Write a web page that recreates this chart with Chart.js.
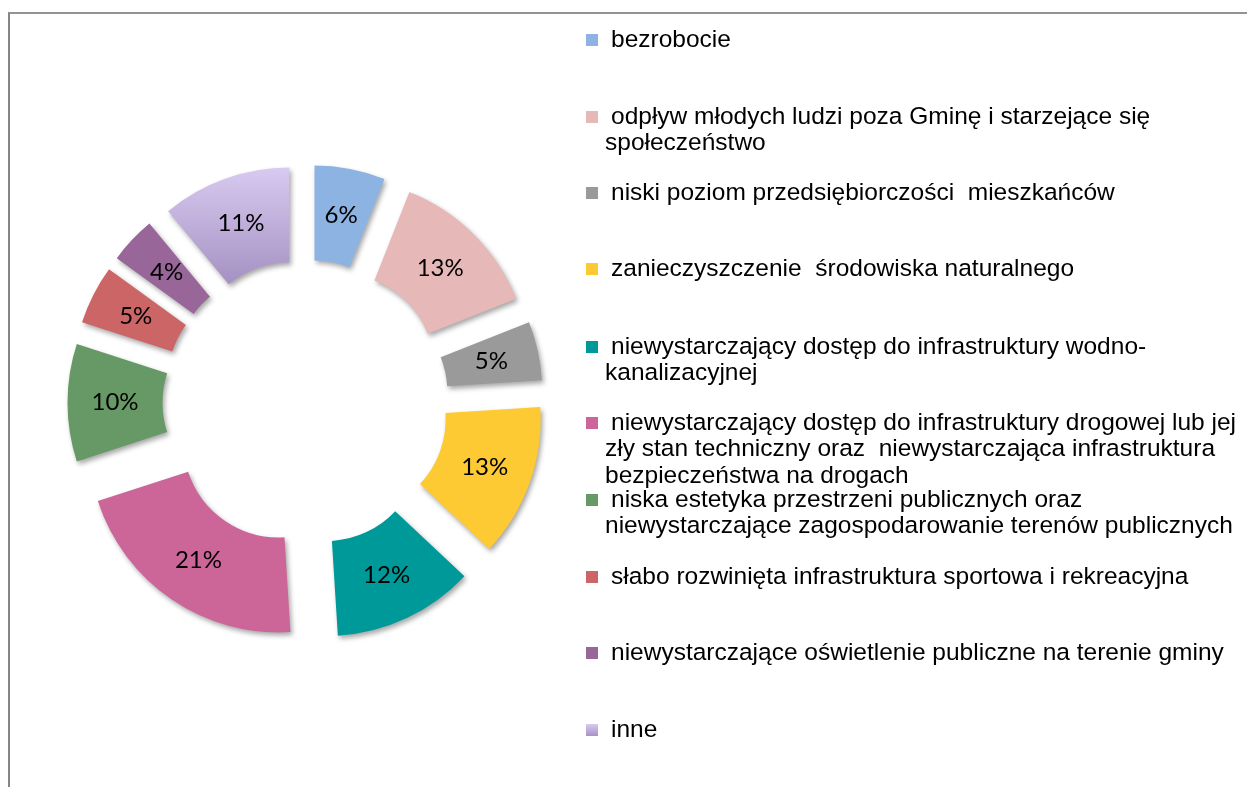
<!DOCTYPE html>
<html>
<head>
<meta charset="utf-8">
<script src="https://cdn.jsdelivr.net/npm/chart.js@4.4.1/dist/chart.umd.min.js"></script>
<style>
html, body { margin: 0; padding: 0; background: #fff; overflow: hidden; }
#wrap { position: relative; width: 1247px; height: 787px; }
#frame { position: absolute; left: 8px; top: 12px; width: 1300px; height: 800px;
         border-left: 2px solid #868686; border-top: 2px solid #939393; }
canvas { position: absolute; left: 0; top: 0; }
</style>
</head>
<body>
<div id="wrap">
  <div id="frame"></div>
  <canvas id="donutChart" width="1247" height="787"></canvas>
</div>
<script>
// problems named by respondents
var categories = [
  'bezrobocie',
  'odpływ młodych ludzi poza Gminę i starzejące się społeczeństwo',
  'niski poziom przedsiębiorczości mieszkańców',
  'zanieczyszczenie środowiska naturalnego',
  'niewystarczający dostęp do infrastruktury wodno-kanalizacyjnej',
  'niewystarczający dostęp do infrastruktury drogowej lub jej zły stan techniczny oraz  niewystarczająca infrastruktura bezpieczeństwa na drogach',
  'niska estetyka przestrzeni publicznych oraz niewystarczające zagospodarowanie terenów publicznych',
  'słabo rozwinięta infrastruktura sportowa i rekreacyjna',
  'niewystarczające oświetlenie publiczne na terenie gminy',
  'inne'
];
// legend text broken the way the original wraps it
var legendLines = [
  ['bezrobocie'],
  ['odpływ młodych ludzi poza Gminę i starzejące się', 'społeczeństwo'],
  ['niski poziom przedsiębiorczości  mieszkańców'],
  ['zanieczyszczenie  środowiska naturalnego'],
  ['niewystarczający dostęp do infrastruktury wodno-', 'kanalizacyjnej'],
  ['niewystarczający dostęp do infrastruktury drogowej lub jej', 'zły stan techniczny oraz  niewystarczająca infrastruktura', 'bezpieczeństwa na drogach'],
  ['niska estetyka przestrzeni publicznych oraz', 'niewystarczające zagospodarowanie terenów publicznych'],
  ['słabo rozwinięta infrastruktura sportowa i rekreacyjna'],
  ['niewystarczające oświetlenie publiczne na terenie gminy'],
  ['inne']
];
var shares = [6, 13, 5, 13, 12, 21, 10, 5, 4, 11];
var colors = ['#8db3e2', '#e6b8b7', '#9a9a9a', '#fdca33', '#009999',
              '#cc6699', '#669966', '#cc6666', '#996699', '#c4b3e3'];

var EXPLODE = 48;

function lavender(ctx, y0, y1) {
  var g = ctx.createLinearGradient(0, y0, 0, y1);
  g.addColorStop(0, '#d8caf0');
  g.addColorStop(1, '#a693c4');
  return g;
}

// every slice pulled out from the centre, with a soft shadow
var explodePlugin = {
  id: 'explode',
  beforeDatasetDraw: function(chart, args) {
    var ctx = chart.ctx;
    args.meta.data.forEach(function(arc) {
      var mid = (arc.startAngle + arc.endAngle) / 2;
      ctx.save();
      ctx.translate(Math.cos(mid) * EXPLODE, Math.sin(mid) * EXPLODE);
      ctx.shadowColor = 'rgba(0,0,0,0.35)';
      ctx.shadowBlur = 5;
      ctx.shadowOffsetX = 2;
      ctx.shadowOffsetY = 3;
      arc.draw(ctx);
      ctx.restore();
    });
    return false;
  }
};

var labelPlugin = {
  id: 'labels',
  afterDraw: function(chart) {
    var ctx = chart.ctx;
    var arcs = chart.getDatasetMeta(0).data;
    ctx.save();
    ctx.fillStyle = '#000';
    ctx.font = '24px Lato';
    ctx.textAlign = 'center';
    ctx.textBaseline = 'middle';
    arcs.forEach(function(arc, i) {
      var mid = (arc.startAngle + arc.endAngle) / 2;
      var r = (arc.innerRadius + arc.outerRadius) / 2 + EXPLODE;
      ctx.fillText(shares[i] + '%', arc.x + Math.cos(mid) * r, arc.y + Math.sin(mid) * r);
    });

    // legend on the right
    var rows = [40, 117, 193, 269, 347, 423, 500, 577, 653, 730];
    ctx.font = '24.5px "Liberation Sans"';
    ctx.textAlign = 'left';
    legendLines.forEach(function(lines, i) {
      var y = rows[i];
      ctx.fillStyle = i === 9 ? lavender(ctx, y - 6, y + 6) : colors[i];
      ctx.fillRect(586, y - 6, 12, 12);
      ctx.fillStyle = '#000';
      lines.forEach(function(t, k) {
        ctx.fillText(t, k === 0 ? 611 : 605, y + k * 26.7);
      });
    });
    ctx.restore();
  }
};

var ctx = document.getElementById('donutChart').getContext('2d');
var donutChart = new Chart(ctx, {
  type: 'doughnut',
  data: {
    labels: categories,
    datasets: [{
      data: shares,
      backgroundColor: function(c) {
        var area = c.chart.chartArea;
        if (c.dataIndex === 9 && area) {
          var cy = (area.top + area.bottom) / 2;
          return lavender(c.chart.ctx, cy - 190, cy - 77);
        }
        return colors[c.dataIndex];
      },
      borderWidth: 0
    }]
  },
  options: {
    responsive: false,
    animation: false,
    radius: 190,
    cutout: '50%',
    layout: { padding: { left: 55.5, right: 691.5, top: 152.7, bottom: 134.3 } },
    plugins: {
      legend: { display: false },
      tooltip: { enabled: false }
    }
  },
  plugins: [explodePlugin, labelPlugin]
});
</script>
</body>
</html>
